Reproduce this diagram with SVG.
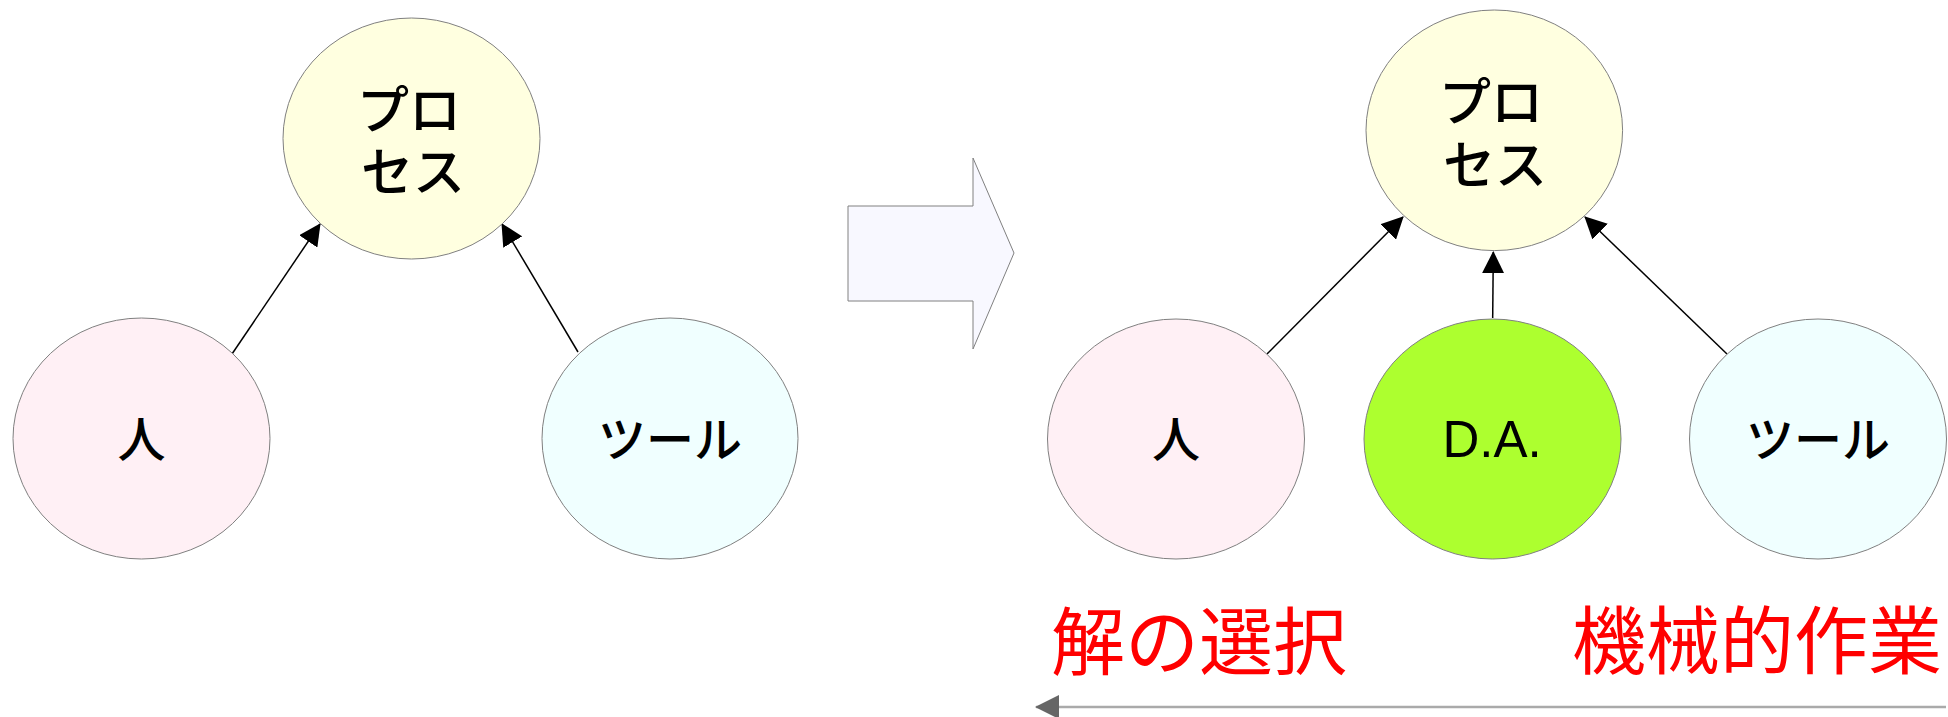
<svg xmlns="http://www.w3.org/2000/svg" width="1948" height="717" viewBox="0 0 1948 717">
<style>
  .node { stroke: #808080; stroke-width: 1; }
  .proc { fill: #ffffe0; }
  .hito { fill: #fff0f5; }
  .tool { fill: #f0ffff; }
  .da { fill: #adff2f; }
  .jp { font-family: "Noto Sans CJK JP", "Noto Sans CJK SC", sans-serif; font-size: 48px; font-weight: 500; fill: #000; text-anchor: middle; }
  .big { font-size: 52px; }
  .lat { font-family: "Liberation Sans", Arial, sans-serif; font-size: 51px; fill: #000; text-anchor: middle; }
  .red { font-family: "Noto Sans CJK JP", "Noto Sans CJK SC", sans-serif; font-size: 74px; fill: #ff0000; }
  .edge { stroke: #000; stroke-width: 1.5; fill: none; marker-end: url(#ah); }
</style>
<defs>
  <marker id="ah" markerUnits="userSpaceOnUse" markerWidth="22" markerHeight="22" viewBox="0 0 22 22" refX="21" refY="11" orient="auto">
    <path d="M0,0 L22,11 L0,22 Z" fill="#000"/>
  </marker>
  <marker id="gh" markerUnits="userSpaceOnUse" markerWidth="24" markerHeight="24" viewBox="0 0 24 24" refX="23" refY="12" orient="auto">
    <path d="M0,0 L24,12 L0,24 Z" fill="#666"/>
  </marker>
</defs>
<rect width="1948" height="717" fill="#fff"/>

<g id="connectors">
  <line class="edge" x1="232" y1="354" x2="320" y2="224"/>
  <line class="edge" x1="578" y1="352" x2="502" y2="224"/>
  <line class="edge" x1="1267" y1="354" x2="1403" y2="217"/>
  <line class="edge" x1="1492.7" y1="318" x2="1493.3" y2="252"/>
  <line class="edge" x1="1727" y1="354" x2="1585" y2="217"/>
  <line x1="1946" y1="707" x2="1036" y2="707" stroke="#aaaaaa" stroke-width="2.5" marker-end="url(#gh)"/>
</g>

<g id="big-arrow">
  <polygon points="848,206 973,206 973,158 1014,253 973,349 973,301 848,301" fill="#f8f8ff" stroke="#808080" stroke-width="1"/>
</g>

<g id="left-process">
  <ellipse class="node proc" cx="411.5" cy="138.5" rx="128.5" ry="120.5"/>
  <text class="jp big" x="409" y="129"><tspan x="409">プロ</tspan><tspan x="413" dy="62">セス</tspan></text>
</g>
<g id="left-hito">
  <ellipse class="node hito" cx="141.5" cy="438.5" rx="128.5" ry="120.5"/>
  <text class="jp" x="141.5" y="457">人</text>
</g>
<g id="left-tool">
  <ellipse class="node tool" cx="670" cy="438.5" rx="128" ry="120.5"/>
  <text class="jp" x="670" y="457">ツール</text>
</g>

<g id="right-process">
  <ellipse class="node proc" cx="1494.3" cy="130.3" rx="128.3" ry="120.3"/>
  <text class="jp big" x="1491" y="121"><tspan x="1491">プロ</tspan><tspan x="1495" dy="63">セス</tspan></text>
</g>
<g id="right-hito">
  <ellipse class="node hito" cx="1176" cy="439" rx="128.5" ry="120"/>
  <text class="jp" x="1176" y="457">人</text>
</g>
<g id="right-da">
  <ellipse class="node da" cx="1492.5" cy="439" rx="128.5" ry="120"/>
  <text class="lat" x="1492" y="457">D.A.</text>
</g>
<g id="right-tool">
  <ellipse class="node tool" cx="1818" cy="439" rx="128.5" ry="120"/>
  <text class="jp" x="1818" y="457">ツール</text>
</g>

<g id="labels">
  <text class="red" x="1051" y="669">解の選択</text>
  <text class="red" x="1572" y="668">機械的作業</text>
</g>
</svg>
